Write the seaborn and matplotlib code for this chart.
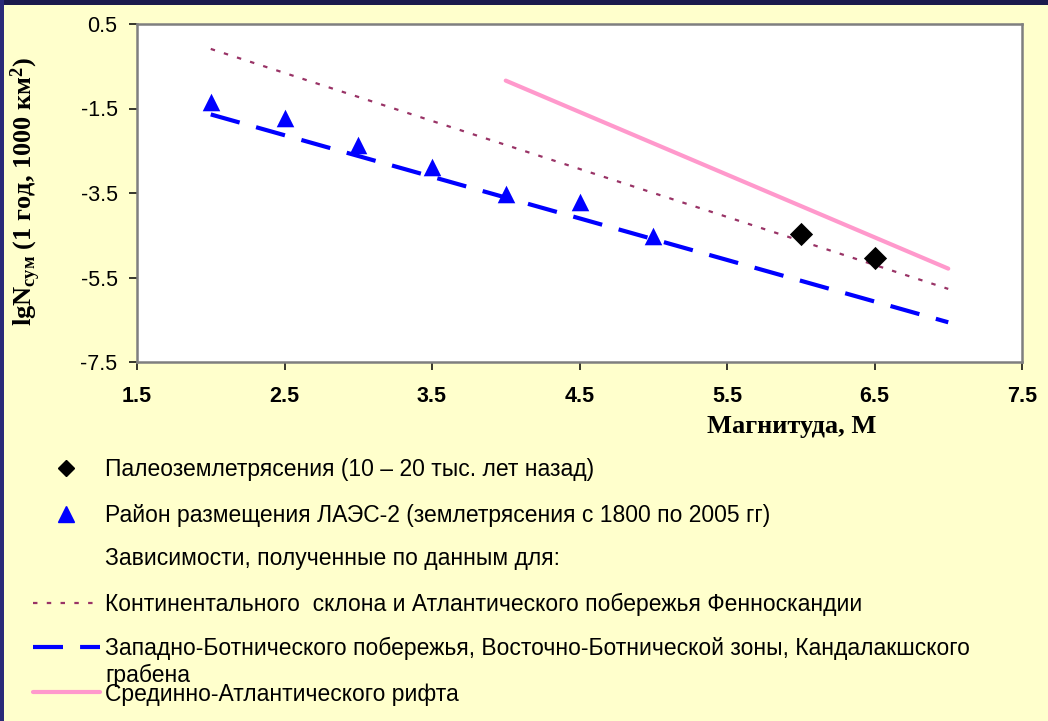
import matplotlib
matplotlib.use("Agg")
import matplotlib.pyplot as plt
from matplotlib.patches import Rectangle
import seaborn as sns

# --- data -------------------------------------------------------------
# LAES-2 site, instrumental earthquakes 1800-2005
laes_magnitude = [2.0, 2.5, 3.0, 3.5, 4.0, 4.5, 5.0]
laes_lgN = [-1.34, -1.73, -2.37, -2.88, -3.53, -3.72, -4.51]

# palaeoearthquakes (10-20 thousand years ago)
paleo_magnitude = [6.0, 6.5]
paleo_lgN = [-4.47, -5.04]

# recurrence relations
fenno_magnitude = [2.0, 7.0]
fenno_lgN = [-0.09, -5.77]
botnia_magnitude = [2.0, 7.0]
botnia_lgN = [-1.64, -6.56]
rift_magnitude = [4.0, 7.0]
rift_lgN = [-0.84, -5.29]

x_ticks = [1.5, 2.5, 3.5, 4.5, 5.5, 6.5, 7.5]
y_ticks = [0.5, -1.5, -3.5, -5.5, -7.5]

legend_labels = [
    "Палеоземлетрясения (10 – 20 тыс. лет назад)",
    "Район размещения ЛАЭС-2 (землетрясения с 1800 по 2005 гг)",
    "Зависимости, полученные по данным для:",
    "Континентального  склона и Атлантического побережья Фенноскандии",
    "Западно-Ботнического побережья, Восточно-Ботнической зоны, Кандалакшского\nграбена",
    "Срединно-Атлантического рифта",
]

# --- style ------------------------------------------------------------
sns.set_theme(style="white")
plt.rcParams["font.family"] = ["Liberation Sans", "DejaVu Sans"]
plt.rcParams["mathtext.default"] = "regular"

BG = "#FFFFCC"
DOT_COLOR = "#993366"
BLUE = "#0000FF"
PINK = "#FF99CC"

W, H = 1048, 721
fig = plt.figure(figsize=(W / 100, H / 100), dpi=100, facecolor=BG)

L, R, T, B = 137, 1022, 24, 362
ax = fig.add_axes([L / W, (H - B) / H, (R - L) / W, (B - T) / H])
ax.set_facecolor("white")

fenno_style = (0, (2.0, 4.2))
botnia_style = (0, (7.2, 4.1))

sns.lineplot(x=fenno_magnitude, y=fenno_lgN, ax=ax, color=DOT_COLOR,
             linewidth=1.6, linestyle=fenno_style, estimator=None, sort=False)
sns.lineplot(x=botnia_magnitude, y=botnia_lgN, ax=ax, color=BLUE,
             linewidth=3.0, linestyle=botnia_style, estimator=None, sort=False)
sns.lineplot(x=rift_magnitude, y=rift_lgN, ax=ax, color=PINK,
             linewidth=3.0, estimator=None, sort=False)

sns.scatterplot(x=laes_magnitude, y=laes_lgN, ax=ax, marker="^", s=160,
                color=BLUE, edgecolor=BLUE, linewidth=0, zorder=5)
sns.scatterplot(x=paleo_magnitude, y=paleo_lgN, ax=ax, marker="D", s=140,
                color="black", edgecolor="black", linewidth=0, zorder=5)

ax.set_xlim(1.5, 7.5)
ax.set_ylim(-7.5, 0.5)
ax.set_xticks(x_ticks)
ax.set_yticks(y_ticks)
ax.set_xticklabels([f"{v:g}" for v in x_ticks], fontsize=15.5, fontweight="bold")
ax.set_yticklabels([f"{v:g}" for v in y_ticks], fontsize=15.5)
ax.tick_params(axis="both", direction="out", length=6, width=1.1,
               color="black", labelcolor="black")
ax.tick_params(axis="x", pad=11)
ax.tick_params(axis="y", pad=8)
ax.tick_params(bottom=True, left=True)
for side in ["left", "right", "top", "bottom"]:
    ax.spines[side].set_visible(True)
    ax.spines[side].set_color("#7f7f7f")
    ax.spines[side].set_linewidth(1.8)
ax.grid(False)

ax.set_xlabel("Магнитуда, М", family="Liberation Serif", fontweight="bold",
              fontsize=19, va="center", ha="center", color="black")
ax.xaxis.set_label_coords((792 - L) / (R - L), (B - 427) / (B - T))
ax.set_ylabel(r"lgN$_{сум}$ (1 год, 1000 км$^{2}$)", family="Liberation Serif",
              fontweight="bold", fontsize=19, va="center", ha="center",
              color="black")
ax.yaxis.set_label_coords((26 - L) / (R - L), 0.5 + (191 - (T + B) / 2) / (T - B))

# --- legend block and frame, in figure pixel coordinates ---------------
lg = fig.add_axes([0, 0, 1, 1])
lg.set_xlim(0, W)
lg.set_ylim(H, 0)
lg.axis("off")

lg.add_patch(Rectangle((0, 0), W, 5, color="#1b1a4d", lw=0))
lg.add_patch(Rectangle((0, 0), 3.5, H, color="#2a2a78", lw=0))

hx0, hx1, tx = 33, 100, 105
lg.plot([66], [468], marker="D", ms=8, color="black", lw=0)
lg.plot([66], [514], marker="^", ms=11, color=BLUE, lw=0)
lg.plot([hx0, hx1], [603, 603], color=DOT_COLOR, lw=1.6, linestyle=fenno_style)
lg.plot([hx0, hx1], [647, 647], color=BLUE, lw=3.0, linestyle=botnia_style)
lg.plot([hx0, hx1], [692, 692], color=PINK, lw=3.0)

# baseline alignment of a two-line text anchors its last line
baselines = [476, 522, 565, 611, 682, 701]
for label, yb in zip(legend_labels, baselines):
    lg.text(tx, yb, label, fontsize=16.5, color="black", ha="left",
            va="baseline", linespacing=1.2)

fig.savefig("out.png", dpi=100, facecolor=BG)
